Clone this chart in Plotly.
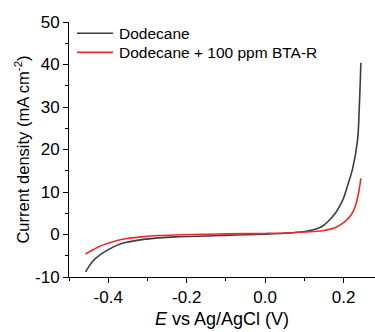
import plotly.graph_objects as go

# Dodecane
e_dod = [-0.458, -0.449, -0.4406, -0.4195, -0.3985, -0.377, -0.356, -0.314, -0.272, -0.229, -0.15, -0.1, -0.05,
         0.0, 0.05, 0.1, 0.13, 0.147, 0.164, 0.181, 0.193, 0.2, 0.21, 0.223, 0.2355, 0.24, 0.244]
j_dod = [-8.8, -7.5, -6.4, -4.7, -3.5, -2.5, -1.9, -1.2, -0.8, -0.55, -0.35, -0.2, -0.05,
         0.1, 0.3, 0.7, 1.3, 2.0, 3.4, 5.3, 7.2, 8.6, 11.5, 15.5, 22.2, 30.0, 40.4]

# Dodecane + 100 ppm BTA-R
e_bta = [-0.458, -0.4406, -0.42, -0.3985, -0.377, -0.356, -0.314, -0.272, -0.229, -0.15, -0.1, 0.0, 0.05,
         0.1, 0.147, 0.181, 0.2, 0.212, 0.222, 0.231, 0.2385, 0.244]
j_bta = [-4.6, -3.7, -2.7, -2.0, -1.4, -1.0, -0.55, -0.25, -0.1, 0.05, 0.15, 0.25, 0.35,
         0.6, 0.9, 1.7, 2.8, 3.8, 5.0, 7.0, 10.0, 13.2]

names = ["Dodecane", "Dodecane + 100 ppm BTA-R"]
colors = ["#3d3d3d", "#ee2a2f"]

x_tickvals = [-0.4, -0.2, 0.0, 0.2]
x_ticktext = ["-0.4", "-0.2", "0.0", "0.2"]
y_tickvals = [-10, 0, 10, 20, 30, 40, 50]
y_ticktext = ["-10", "0", "10", "20", "30", "40", "50"]

font = "Liberation Sans, Arial, sans-serif"

fig = go.Figure()
for x, y, n, c in [(e_dod, j_dod, names[0], colors[0]), (e_bta, j_bta, names[1], colors[1])]:
    fig.add_trace(go.Scatter(x=x, y=y, mode="lines", name=n, showlegend=False,
                             line=dict(color=c, width=1.6, shape="spline", smoothing=1.0)))

# manual legend (paper coords)
leg_y = [0.956, 0.881]
for n, c, ly in zip(names, colors, leg_y):
    fig.add_shape(type="line", xref="paper", yref="paper", x0=0.026, x1=0.144, y0=ly, y1=ly,
                  line=dict(color=c, width=1.6))
    fig.add_annotation(xref="paper", yref="paper", x=0.158, y=ly, xanchor="left", yanchor="middle",
                       text=n, showarrow=False, font=dict(family=font, size=15.5, color="black"))

axis_common = dict(showline=True, linecolor="black", linewidth=1, ticks="outside",
                   ticklen=5, tickwidth=1, tickcolor="black", showgrid=False, zeroline=False,
                   tickfont=dict(family=font, size=17, color="black"), mirror=False)

fig.update_layout(
    width=375, height=332,
    margin=dict(l=69, r=0, t=22, b=55),
    paper_bgcolor="white", plot_bgcolor="white",
    font=dict(family=font, color="black"),
    xaxis=dict(range=[-0.5, 0.28], tickmode="array", tickvals=x_tickvals, ticktext=x_ticktext,
               minor=dict(dtick=0.1, tick0=0, ticks="outside", ticklen=3, tickcolor="black"),
               title=dict(text="<i>E</i> vs Ag/AgCl (V)", font=dict(family=font, size=18), standoff=5),
               **axis_common),
    yaxis=dict(range=[-10, 50], tickmode="array", tickvals=y_tickvals, ticktext=y_ticktext,
               minor=dict(dtick=5, tick0=0, ticks="outside", ticklen=3, tickcolor="black"),
               title=dict(text="Current density (mA cm<sup>-2</sup>)", font=dict(family=font, size=16.5), standoff=1),
               **axis_common),
    showlegend=False,
)

fig.write_html("out.html")
